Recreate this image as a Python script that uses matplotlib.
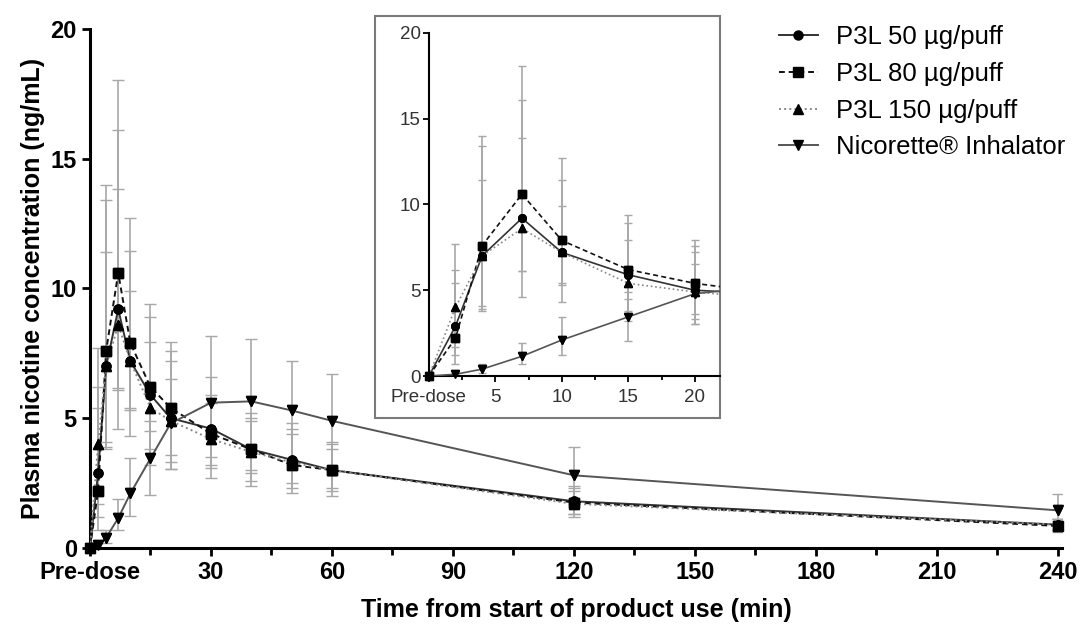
import numpy as np
import matplotlib
matplotlib.use('Agg')
import matplotlib.pyplot as plt
from matplotlib.patches import Rectangle

plt.rcParams['font.family'] = ['Liberation Sans', 'DejaVu Sans']

# sampling times (min), 0 = pre-dose
times = [0, 2, 4, 7, 10, 15, 20, 30, 40, 50, 60, 120, 240]

labels = ['P3L 50 µg/puff', 'P3L 80 µg/puff', 'P3L 150 µg/puff', 'Nicorette® Inhalator']

p50_mean = [0, 2.9, 7.0, 9.2, 7.2, 5.9, 5.0, 4.6, 3.8, 3.4, 3.0, 1.8, 0.9]
p50_upper = [0, 5.4, 11.4, 16.1, 11.45, 8.9, 7.6, 6.6, 5.0, 4.6, 4.0, 2.3, 1.1]
p50_lower = [0, 1.7, 3.8, 4.6, 4.3, 3.2, 3.05, 3.1, 2.6, 2.1, 2.0, 1.3, 0.7]

p80_mean = [0, 2.2, 7.6, 10.6, 7.9, 6.2, 5.4, 4.4, 3.8, 3.2, 3.0, 1.75, 0.85]
p80_upper = [0, 6.2, 14.0, 18.05, 12.7, 9.4, 7.95, 5.9, 5.2, 4.8, 4.1, 2.4, 1.1]
p80_lower = [0, 0.7, 4.1, 6.15, 5.4, 4.5, 3.6, 3.5, 2.9, 2.3, 2.2, 1.2, 0.6]

p150_mean = [0, 4.0, 7.0, 8.6, 7.2, 5.4, 4.9, 4.2, 3.7, 3.3, 3.0, 1.7, 0.9]
p150_upper = [0, 7.7, 13.4, 13.85, 9.9, 7.95, 7.2, 5.6, 4.9, 4.4, 3.8, 2.2, 1.1]
p150_lower = [0, 1.2, 3.9, 6.1, 5.3, 3.8, 3.3, 3.2, 3.0, 2.5, 2.3, 1.3, 0.7]

nic_mean = [0, 0.1, 0.4, 1.15, 2.1, 3.45, 4.8, 5.6, 5.65, 5.3, 4.9, 2.8, 1.45]
nic_upper = [0, 0.2, 0.7, 1.9, 3.45, 4.9, 6.5, 8.15, 8.05, 7.2, 6.7, 3.9, 2.08]
nic_lower = [0, 0.0, 0.2, 0.7, 1.25, 2.05, 3.05, 2.7, 2.4, 3.4, 3.1, 1.7, 0.9]

series = [
    (p50_mean, p50_lower, p50_upper, 'o', '-', '#333333'),
    (p80_mean, p80_lower, p80_upper, 's', (0, (3, 2)), '#111111'),
    (p150_mean, p150_lower, p150_upper, '^', ':', '#888888'),
    (nic_mean, nic_lower, nic_upper, 'v', '-', '#555555'),
]


def draw(ax, ms, lw, capsize, tmax):
    handles = []
    t = np.array(times)
    keep = t <= tmax
    for mean, lo, up, mk, ls, col in series:
        mean = np.array(mean)
        err = [mean - np.array(lo), np.array(up) - mean]
        ax.errorbar(t, mean, yerr=err, fmt='none', ecolor='#a8a8a8',
                    elinewidth=1.2, capsize=capsize, capthick=1.0, zorder=1)
        h, = ax.plot(t, mean, linestyle=ls, color=col, lw=lw, marker=mk,
                     markersize=ms, markerfacecolor='black',
                     markeredgecolor='black', zorder=3)
        # markers drawn again unclipped so the pre-dose point sits on the axis
        ax.plot(t[keep], mean[keep], linestyle='none', marker=mk, markersize=ms,
                color='black', zorder=4, clip_on=False)
        handles.append(h)
    return handles


fig = plt.figure(figsize=(10.83, 6.33), dpi=100)

ax = fig.add_axes([0.0831, 0.1343, 0.8975, 0.8199])
handles = draw(ax, 6.5, 1.4, 4, 241)
ax.set_xlim(0, 241)
ax.set_ylim(0, 20)
ax.set_xticks(range(0, 241, 30))
ax.set_xticklabels(['Pre-dose'] + [str(t) for t in range(30, 241, 30)])
ax.set_xticks(range(15, 241, 30), minor=True)
ax.set_yticks([0, 5, 10, 15, 20])
for s in ['top', 'right']:
    ax.spines[s].set_visible(False)
for s in ['left', 'bottom']:
    ax.spines[s].set_linewidth(2.2)
ax.tick_params(axis='both', which='major', direction='out', width=2, length=6,
               labelsize=17)
ax.tick_params(axis='x', which='minor', direction='out', width=2, length=5)
for lab in ax.get_xticklabels() + ax.get_yticklabels():
    lab.set_fontweight('bold')
ax.set_xlabel('Time from start of product use (min)', fontsize=18,
              fontweight='bold', labelpad=10)
ax.set_ylabel('Plasma nicotine concentration (ng/mL)', fontsize=18,
              fontweight='bold', labelpad=4)

# inset frame
fig.patches.append(Rectangle((0.346, 0.340), 0.319, 0.635, transform=fig.transFigure,
                             facecolor='white', edgecolor='#7a7a7a', lw=1.5, zorder=5))

ins = fig.add_axes([0.396, 0.406, 0.269, 0.542])
ins.set_zorder(10)
draw(ins, 5.5, 1.2, 3, 21.9)
ins.set_xlim(0, 21.9)
ins.set_ylim(0, 20)
ins.set_xticks([0, 5, 10, 15, 20])
ins.set_xticklabels(['Pre-dose', '5', '10', '15', '20'])
ins.set_xticks(np.arange(2.5, 21.9, 5), minor=True)
ins.set_yticks([0, 5, 10, 15, 20])
for s in ['top', 'right']:
    ins.spines[s].set_visible(False)
for s in ['left', 'bottom']:
    ins.spines[s].set_linewidth(1.5)
ins.tick_params(axis='both', which='major', direction='out', width=1.3, length=4,
                labelsize=13.5, colors='black', labelcolor='#333333', pad=2)
ins.tick_params(axis='x', which='major', pad=5)
ins.tick_params(axis='x', which='minor', direction='out', width=1.3, length=3)
ins.patch.set_alpha(0)

fig.legend(handles, labels, loc='upper left', bbox_to_anchor=(0.71, 0.977),
           frameon=False, fontsize=18.5, handlelength=1.5, labelspacing=0.5,
           handletextpad=0.7, borderaxespad=0)

fig.savefig('out.png', dpi=100)
